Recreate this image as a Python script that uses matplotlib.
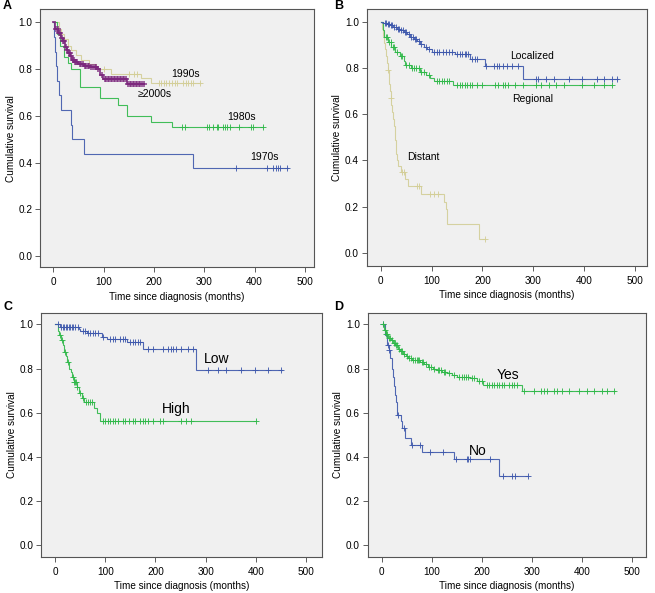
import numpy as np
import matplotlib
matplotlib.use("Agg")
import matplotlib.pyplot as plt

plt.rcParams['font.family'] = ['Liberation Sans', 'DejaVu Sans']

BLUE = '#3E58AC'
GREEN = '#2EB848'
TAN = '#D3CE97'
PURPLE = '#7C287D'

# ---------------- Panel A: decade of diagnosis ----------------
a1970_t = [0, 2, 4, 6, 8, 11, 16, 36, 38, 60, 277]
a1970_s = [1.0, 0.9375, 0.875, 0.8125, 0.75, 0.6875, 0.625, 0.5625, 0.5, 0.4375, 0.375]
a1970_end = 467
a1970_c = [363, 424, 436, 443, 447, 451, 465]

a1980_t = [0, 8, 13, 22, 30, 36, 52, 93, 129, 146, 194, 235]
a1980_s = [1.0, 0.95, 0.90, 0.85, 0.825, 0.80, 0.725, 0.675, 0.645, 0.598, 0.575, 0.551]
a1980_end = 416
a1980_c = [256, 262, 305, 309, 317, 325, 328, 337, 341, 346, 351, 368, 393, 397, 416]

a1990_t = [0, 12, 15, 22, 30, 35, 45, 55, 70, 85, 115, 175, 195]
a1990_s = [1.0, 0.97, 0.95, 0.93, 0.90, 0.88, 0.86, 0.84, 0.82, 0.80, 0.78, 0.76, 0.74]
a1990_end = 292
a1990_c = [100, 150, 160, 166, 209, 214, 219, 224, 229, 235, 242, 246, 258, 264, 268, 273, 278, 292]

a2000_t = [0, 4, 10, 15, 19, 23, 27, 30, 34, 37, 42, 50, 60, 73, 86, 93, 99, 146]
a2000_s = [1.0, 0.97, 0.953, 0.935, 0.92, 0.895, 0.88, 0.87, 0.855, 0.84, 0.83, 0.82, 0.815, 0.81, 0.80, 0.774, 0.756, 0.736]
a2000_end = 180
a2000_c = [6, 9, 12, 14, 17, 20, 22, 25, 28, 31, 33, 36, 39, 41, 44, 46, 48, 52, 55, 58, 62, 65, 68,
           71, 75, 78, 82, 85, 88, 96, 102, 105, 108, 111, 114, 117, 120, 123, 126, 129, 132, 135,
           138, 141, 144, 149, 152, 155, 158, 161, 164, 167, 170, 173, 176, 180]

# ---------------- Panel B: stage ----------------
bloc_t = [0, 5, 12, 18, 25, 32, 38, 45, 52, 58, 65, 72, 78, 85, 92, 100, 146, 176, 206, 279]
bloc_s = [1.0, 0.995, 0.99, 0.985, 0.978, 0.97, 0.963, 0.955, 0.945, 0.935, 0.925, 0.915, 0.905,
          0.89, 0.88, 0.87, 0.86, 0.837, 0.808, 0.752]
bloc_end = 467
bloc_c = [8, 11, 14, 17, 20, 23, 27, 30, 34, 36, 40, 43, 47, 50, 55, 60, 63, 68, 70, 75, 80, 90, 95,
          105, 110, 115, 122, 128, 135, 140, 150, 155, 160, 165, 168, 172, 180, 185, 190, 208, 222,
          228, 232, 240, 248, 258, 270, 305, 310, 325, 340, 370, 395, 425, 440, 455, 465]

breg_t = [0, 5, 7, 15, 21, 28, 38, 45, 48, 60, 77, 90, 97, 104, 143]
breg_s = [1.0, 0.965, 0.935, 0.914, 0.892, 0.87, 0.85, 0.83, 0.813, 0.798, 0.784, 0.77, 0.755, 0.745, 0.726]
breg_end = 454
breg_c = [10, 13, 17, 20, 24, 27, 32, 40, 42, 50, 55, 62, 65, 70, 75, 80, 85, 95, 110, 115, 120,
          125, 130, 135, 150, 155, 160, 165, 170, 175, 180, 190, 200, 225, 230, 240, 245, 250, 265,
          280, 305, 315, 330, 345, 360, 395, 420, 440, 454]

bdis_t = [0, 3, 5, 7, 9, 11, 12, 14, 16, 17, 19, 20, 21, 23, 25, 26, 28, 29, 30, 31, 33, 35, 40,
          47, 53, 80, 124, 129, 131, 194]
bdis_s = [1.0, 0.97, 0.94, 0.91, 0.88, 0.85, 0.82, 0.79, 0.76, 0.73, 0.70, 0.67, 0.64, 0.61, 0.58,
          0.55, 0.52, 0.49, 0.46, 0.43, 0.40, 0.375, 0.35, 0.32, 0.29, 0.255, 0.22, 0.19, 0.125, 0.0625]
bdis_end = 205
bdis_c = [15, 20, 42, 45, 72, 76, 96, 105, 112, 205]

# ---------------- Panel C: risk group ----------------
clow_t = [0, 10, 47, 50, 63, 93, 103, 143, 176, 281]
clow_s = [1.0, 0.986, 0.978, 0.970, 0.959, 0.945, 0.934, 0.921, 0.887, 0.795]
clow_end = 451
clow_c = [5, 12, 15, 18, 21, 24, 27, 30, 33, 36, 40, 45, 55, 60, 65, 70, 75, 80, 85, 95, 110, 115,
          120, 130, 135, 140, 150, 155, 160, 165, 170, 185, 195, 215, 225, 230, 235, 240, 250, 265,
          275, 305, 325, 340, 370, 398, 425, 450]

chigh_t = [0, 5, 8, 12, 16, 18, 21, 24, 28, 31, 34, 37, 43, 47, 53, 58, 78, 83, 90]
chigh_s = [1.0, 0.97, 0.95, 0.93, 0.907, 0.876, 0.855, 0.831, 0.80, 0.785, 0.76, 0.74, 0.717,
           0.688, 0.665, 0.647, 0.62, 0.597, 0.562]
chigh_end = 400
chigh_c = [10, 14, 20, 26, 35, 38, 40, 41, 44, 50, 55, 62, 65, 70, 73, 95, 100, 105, 110, 115, 120,
           125, 135, 140, 148, 155, 160, 170, 175, 180, 185, 195, 210, 215, 250, 260, 270, 400]

# ---------------- Panel D: treatment ----------------
dyes_t = [0, 5, 8, 13, 18, 22, 27, 32, 37, 42, 48, 53, 60, 77, 85, 93, 103, 110, 120, 130, 140,
          150, 177, 190, 203, 280]
dyes_s = [1.0, 0.975, 0.955, 0.94, 0.93, 0.915, 0.905, 0.89, 0.88, 0.868, 0.855, 0.846, 0.838,
          0.83, 0.82, 0.808, 0.80, 0.793, 0.785, 0.778, 0.77, 0.763, 0.755, 0.742, 0.725, 0.698]
dyes_end = 466
dyes_c = [3, 6, 9, 11, 14, 16, 20, 24, 26, 29, 31, 35, 39, 41, 45, 50, 55, 58, 62, 66, 70, 72, 75,
          80, 83, 88, 95, 98, 105, 113, 115, 118, 125, 127, 135, 145, 155, 160, 165, 168, 172, 180,
          185, 195, 200, 210, 215, 220, 225, 230, 235, 240, 245, 255, 260, 265, 270, 285, 305, 318,
          325, 330, 345, 350, 360, 375, 395, 410, 425, 440, 450, 465]

dno_t = [0, 6, 11, 14, 17, 20, 22, 24, 26, 28, 30, 38, 40, 47, 58, 80, 145, 234]
dno_s = [1.0, 0.953, 0.906, 0.884, 0.846, 0.80, 0.76, 0.72, 0.68, 0.65, 0.59, 0.56, 0.529, 0.483,
         0.453, 0.423, 0.39, 0.312]
dno_end = 293
dno_c = [2, 12, 15, 33, 44, 60, 77, 97, 122, 148, 170, 173, 177, 217, 243, 260, 267, 292]

x_ticks = [0, 100, 200, 300, 400, 500]
y_ticks = [0.0, 0.2, 0.4, 0.6, 0.8, 1.0]
x_label = "Time since diagnosis (months)"
y_label = "Cumulative survival"


def km(ax, t, s, end, cens, color, lw=0.8, ms=3.8, mew=0.7, alpha=0.9):
    tt = list(t) + [end]
    ss = list(s) + [s[-1]]
    ax.step(tt, ss, where='post', color=color, lw=lw, alpha=alpha, solid_joinstyle='miter')
    idx = np.searchsorted(np.asarray(t), np.asarray(cens), side='right') - 1
    cy = np.asarray(s)[idx]
    ax.plot(cens, cy, linestyle='none', marker='+', color=color, ms=ms, mew=mew, alpha=alpha)


def style(ax, xlim, ylim):
    ax.set_facecolor('#F0F0F0')
    ax.set_xlim(*xlim)
    ax.set_ylim(*ylim)
    ax.set_xticks(x_ticks)
    ax.set_yticks(y_ticks)
    ax.set_yticklabels(['%.1f' % v for v in y_ticks])
    ax.tick_params(labelsize=7.2, length=3.5, width=0.6, color='#444444')
    ax.tick_params(axis='x', pad=4)
    ax.tick_params(axis='y', pad=2)
    for sp in ax.spines.values():
        sp.set_color('#555555')
        sp.set_linewidth(0.8)
    ax.set_xlabel(x_label, fontsize=7.2, labelpad=3)
    ax.set_ylabel(y_label, fontsize=7.2, labelpad=2)


fig = plt.figure(figsize=(6.55, 5.93), dpi=100)
W, H = 655.0, 593.0


def add_axes(l, r, t, b):
    return fig.add_axes([l / W, 1 - b / H, (r - l) / W, (b - t) / H])


axA = add_axes(40, 314, 9.3, 267)
axB = add_axes(366.7, 647, 9, 265.7)
axC = add_axes(41, 321.7, 312.7, 556.7)
axD = add_axes(367.7, 645.7, 312.7, 556.7)

# Panel A
km(axA, a1990_t, a1990_s, a1990_end, a1990_c, TAN)
km(axA, a1980_t, a1980_s, a1980_end, a1980_c, GREEN)
km(axA, a1970_t, a1970_s, a1970_end, a1970_c, BLUE)
km(axA, a2000_t, a2000_s, a2000_end, a2000_c, PURPLE, lw=1.3, ms=4.5, mew=1.1)
style(axA, (-26.5, 518), (-0.047, 1.056))
axA.text(262, 0.78, "1990s", fontsize=7.5, ha='center', va='center')
axA.text(202, 0.693, "≥2000s", fontsize=7.5, ha='center', va='center')
axA.text(374, 0.593, "1980s", fontsize=7.5, ha='center', va='center')
axA.text(419, 0.425, "1970s", fontsize=7.5, ha='center', va='center')

# Panel B
km(axB, bdis_t, bdis_s, bdis_end, bdis_c, TAN)
km(axB, breg_t, breg_s, breg_end, breg_c, GREEN)
km(axB, bloc_t, bloc_s, bloc_end, bloc_c, BLUE)
style(axB, (-27.5, 523.6), (-0.055, 1.055))
axB.text(298, 0.853, "Localized", fontsize=7.5, ha='center', va='center')
axB.text(298, 0.664, "Regional", fontsize=7.5, ha='center', va='center')
axB.text(84, 0.416, "Distant", fontsize=7.5, ha='center', va='center')

# Panel C
km(axC, chigh_t, chigh_s, chigh_end, chigh_c, GREEN)
km(axC, clow_t, clow_s, clow_end, clow_c, BLUE)
style(axC, (-27.9, 531), (-0.053, 1.053))
axC.text(322, 0.843, "Low", fontsize=10, ha='center', va='center')
axC.text(241, 0.615, "High", fontsize=10, ha='center', va='center')

# Panel D
km(axD, dno_t, dno_s, dno_end, dno_c, BLUE)
km(axD, dyes_t, dyes_s, dyes_end, dyes_c, GREEN)
style(axD, (-28, 528), (-0.053, 1.053))
axD.text(253, 0.77, "Yes", fontsize=10, ha='center', va='center')
axD.text(193, 0.426, "No", fontsize=10, ha='center', va='center')

for letter, x, y in [("A", 3, 6), ("B", 334, 6), ("C", 3, 307), ("D", 334, 307)]:
    fig.text(x / W, 1 - y / H, letter, fontsize=9, fontweight='bold', ha='left', va='center')

fig.savefig("out.png", dpi=100, facecolor='white')
